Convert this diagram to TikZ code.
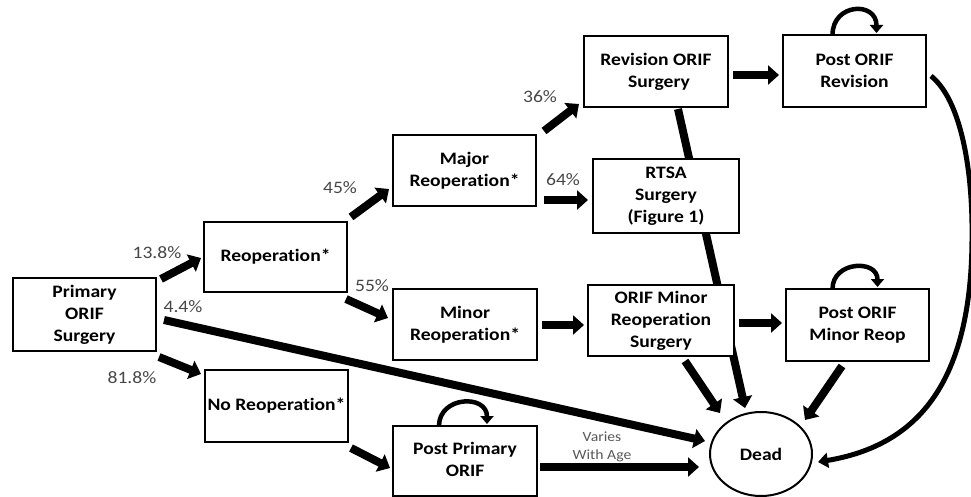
\documentclass[tikz,border=0pt]{standalone}
\usepackage{fontspec}
\setmainfont[FakeStretch=1.12,Ligatures={NoCommon}]{Carlito}
\usetikzlibrary{arrows.meta,calc,shapes.geometric}
\pgfdeclarelayer{bg}
\pgfsetlayers{bg,main}
\begin{document}
\begin{tikzpicture}[x=1pt,y=-1pt,
  box/.style={draw, line width=2pt, fill=white, align=center, inner sep=0pt,
    font=\bfseries\fontsize{17.5}{22}\selectfont, text=black},
  pct/.style={font=\fontsize{17.5}{18}\selectfont, text=black!72, inner sep=0pt},
  fat/.style={line width=8pt, -{Triangle[length=11pt,width=19pt]}},
  curv/.style={line width=5pt, -{Triangle[length=10pt,width=15pt]}},
  loopar/.style={line width=4.5pt, -{Triangle[length=8pt,width=13pt]}}]
\useasboundingbox (0,0) rectangle (971,497);

% boxes
\node[box, minimum width=143pt, minimum height=73pt] (prim) at (84.5,314.5) {Primary\\ORIF\\Surgery};
\node[box, minimum width=143pt, minimum height=70pt] (reop) at (275.5,257) {Reoperation*};
\node[box, minimum width=143pt, minimum height=72pt] (noreop) at (276.5,406) {No Reoperation*};
\node[box, minimum width=143pt, minimum height=71pt] (major) at (464.5,170.5) {Major\\Reoperation*};
\node[box, minimum width=144pt, minimum height=71pt] (minor) at (465,324.5) {Minor\\Reoperation*};
\node[box, minimum width=144pt, minimum height=70pt] (postprim) at (465,461) {\raisebox{-5pt}{\begin{tabular}{@{}c@{}}Post Primary\\[0pt]ORIF\end{tabular}}};
\node[box, minimum width=144pt, minimum height=71pt] (rev) at (656,71.5) {Revision ORIF\\\hspace*{6pt}Surgery};
\node[box, minimum width=146pt, minimum height=74pt] (rtsa) at (666,196) {RTSA\\Surgery\\(Figure 1)};
\node[box, minimum width=146pt, minimum height=71pt] (orifminor) at (661,320.5) {ORIF Minor\\Reoperation\\Surgery};
\node[box, minimum width=143pt, minimum height=72pt] (postrev) at (854.5,71) {Post ORIF\\Revision};
\node[box, minimum width=143pt, minimum height=72pt] (postminor) at (857.5,325) {Post ORIF\\Minor Reop};
\node[box, ellipse, minimum width=102pt, minimum height=84pt] (dead) at (761,454) {Dead};

% labels
\node[pct] (l1) at (157,253) {13.8\%};
\node[pct] (l2) at (183,307) {4.4\%};
\node[pct] (l3) at (132,378) {81.8\%};
\node[pct] (l4) at (340,188) {45\%};
\node[pct] (l5) at (372,286) {55\%};
\node[pct] (l6) at (540,97) {36\%};
\node[pct] (l7) at (563,180) {64\%};
\node[align=center, font=\fontsize{14}{18}\selectfont, text=black!65, inner sep=0pt] (l8) at (602,447) {Varies\\With Age};

\begin{pgfonlayer}{bg}
\draw[fat] ($(prim.north east)+(4,2)$) -- ($(reop.west)+(-2,1)$);
\draw[fat] ($(prim.south east)+(2,5)$) -- ($(noreop.north west)+(-3,5)$);
\draw[fat] ($(prim.east)+(7,5.5)$) -- ($(dead.center)+(-56,-13)$);
\draw[fat] ($(reop.north east)+(3,-4)$) -- ($(major.west)+(-3,18.5)$);
\draw[fat] ($(reop.south east)+(-2,6)$) -- ($(minor.west)+(-4,-6.5)$);
\draw[fat] ($(major.north east)+(7,-3)$) -- ($(rev.south west)+(-4,-4)$);
\draw[fat] ($(major.east)+(7,29.5)$) -- ($(rtsa.west)+(-4,4)$);
\draw[fat] ($(rev.east)+(4,3.5)$) -- ($(postrev.west)+(-3,4)$);
\draw[fat] ($(minor.east)+(4,0.5)$) -- ($(orifminor.west)+(-3,4.5)$);
\draw[fat] ($(orifminor.east)+(4,2.5)$) -- ($(postminor.west)+(-3,-2)$);
\draw[fat] ($(noreop.south east)+(2,5)$) -- ($(postprim.west)+(-2,7)$);
\draw[fat] ($(postprim.east)+(2,6)$) -- ($(dead.center)+(-62,13)$);
\draw[fat] ($(rev.south)+(22,1)$) -- ($(dead.center)+(-16,-46)$);
\draw[fat] ($(orifminor.south)+(24,4)$) -- ($(dead.center)+(-41,-41)$);
\draw[fat] ($(postminor.south)+(-15.5,4)$) -- ($(dead.center)+(44,-34)$);
\draw[curv] ($(postrev.east)+(4,5)$) .. controls +(30,24) and +(1,-70) .. ($(postrev.east)+(45,169)$)
  .. controls +(-1,140) and +(102,-17) .. ($(dead.center)+(57,8)$);
\draw[loopar] ($(postrev.north)+(-22,1)$) .. controls +(0,-32) and +(0,-32) .. ($(postrev.north)+(22,-1)$);
\draw[loopar] ($(postminor.north)+(-25,1)$) .. controls +(0,-28) and +(0,-28) .. ($(postminor.north)+(20,-1)$);
\draw[loopar] ($(postprim.north)+(-26,1)$) .. controls +(0,-30) and +(0,-30) .. ($(postprim.north)+(22,-1)$);
\end{pgfonlayer}
\end{tikzpicture}
\end{document}
